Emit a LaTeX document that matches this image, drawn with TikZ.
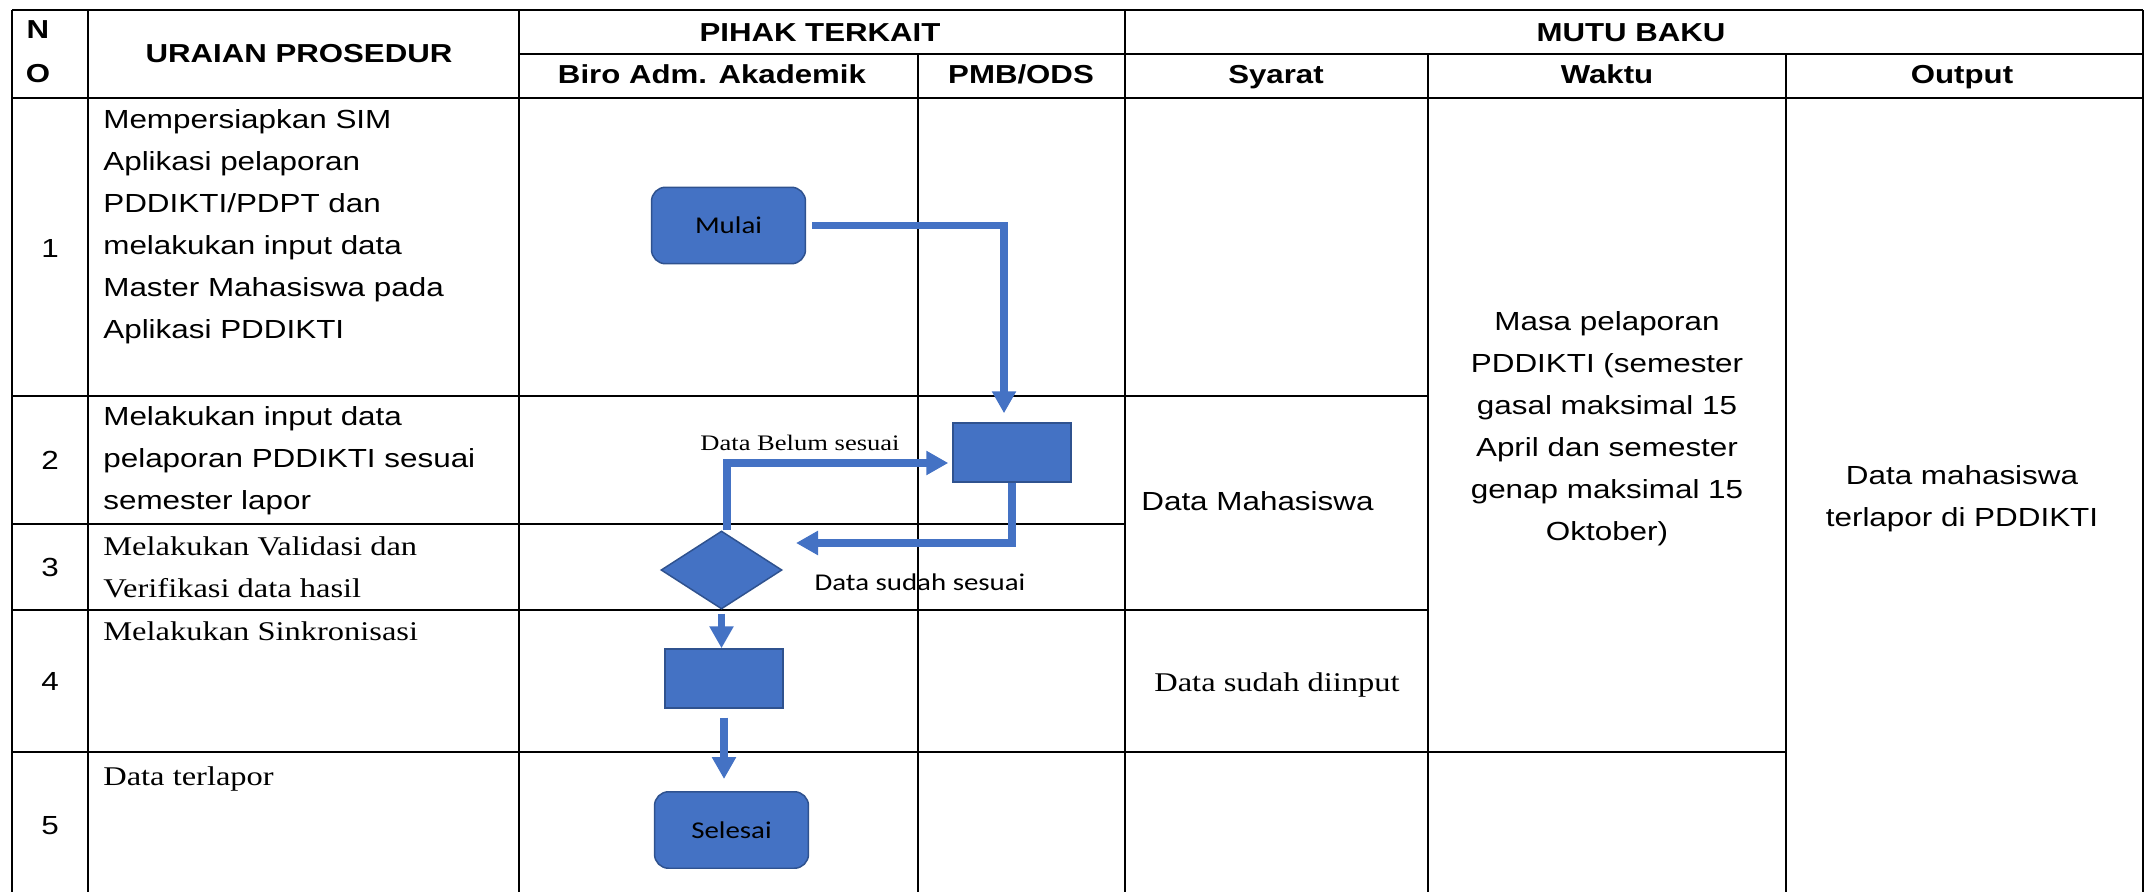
\documentclass[tikz,border=0pt]{standalone}
\usepackage{fontspec}
\setmainfont{Liberation Sans}[FakeStretch=1.2]
\newfontfamily\timesf{Liberation Serif}[FakeStretch=1.2]
\newfontfamily\calif{Carlito}[FakeStretch=1.2]
\usetikzlibrary{arrows.meta,shapes.geometric}
\definecolor{boxblue}{HTML}{4472C4}
\definecolor{boxedge}{HTML}{2F528F}
\tikzset{
  grid/.style={line width=1.1pt},
  head/.style={font=\fontsize{14.8}{25}\selectfont\bfseries, anchor=base, inner sep=0pt},
  num/.style={font=\fontsize{14.9}{18}\selectfont, inner sep=0pt},
  txt/.style={font=\fontsize{14.9}{23.9}\selectfont, align=left, anchor=base west, inner sep=0pt},
  ttxt/.style={font=\timesf\fontsize{15.4}{23.9}\selectfont, align=left, anchor=base west, inner sep=0pt},
  ctxt/.style={font=\fontsize{14.9}{23.9}\selectfont, align=center, inner sep=0pt},
  term/.style={draw=boxedge, line width=0.85pt, fill=boxblue, rounded corners=8pt,
    minimum width=3.08cm, minimum height=1.53cm, font=\calif\fontsize{13.7}{16}\selectfont},
  proc/.style={draw=boxedge, line width=0.85pt, fill=boxblue, minimum width=2.36cm, minimum height=1.18cm},
  dec/.style={diamond, draw=boxedge, line width=0.85pt, fill=boxblue, inner sep=0pt,
    minimum width=2.42cm, minimum height=1.56cm},
  flow/.style={draw=boxblue, line width=4.3pt, -{Triangle[length=0.44cm,width=0.46cm]}},
}
\begin{document}
\begin{tikzpicture}[x=0.02cm,y=-0.02cm]
\useasboundingbox (0,0) rectangle (2147,892);
% table lines
\draw[grid] (12,10) -- (2143,10);
\draw[grid] (519,54) -- (2143,54);
\draw[grid] (12,98) -- (2143,98);
\draw[grid] (12,396) -- (1428,396);
\draw[grid] (12,524) -- (1125,524);
\draw[grid] (12,610) -- (1428,610);
\draw[grid] (12,752) -- (1786,752);
\foreach \x in {12,88,519,1125,2143} \draw[grid] (\x,10) -- (\x,892);
\foreach \x in {918,1428,1786} \draw[grid] (\x,54) -- (\x,892);
%
\node[head, anchor=center, align=center] (no) at (38,52) {N\\O};
\node[head] (uraian) at (299,63) {URAIAN PROSEDUR};
\node[head] (pihak) at (820,42) {PIHAK TERKAIT};
\node[head] (mutu) at (1631,42) {MUTU BAKU};
\node[head] (biro) at (712,84) {Biro Adm. Akademik};
\node[head] (pmb) at (1021,84) {PMB/ODS};
\node[head] (syarat) at (1276,84) {Syarat};
\node[head] (waktu) at (1607,84) {Waktu};
\node[head] (output) at (1962,84) {Output};
%
\node[num] (n1) at (50,248) {1};
\node[num] (n2) at (50,460) {2};
\node[num] (n3) at (50,567) {3};
\node[num] (n4) at (50,681) {4};
\node[num] (n5) at (50,826) {5};
% base of last line
\node[txt] (u1) at (103,338) {Mempersiapkan SIM\\Aplikasi pelaporan\\PDDIKTI/PDPT dan\\melakukan input data\\Master Mahasiswa pada\\Aplikasi PDDIKTI};
\node[txt] (u2) at (103,509) {Melakukan input data\\pelaporan PDDIKTI sesuai\\semester lapor};
\node[ttxt] (u3) at (103,597) {Melakukan Validasi dan\\Verifikasi data hasil};
\node[ttxt] (u4) at (103,640) {Melakukan Sinkronisasi};
\node[ttxt] (u5) at (103,785) {Data terlapor};
%
\node[txt] (s1) at (1141,510) {Data Mahasiswa};
\node[ttxt, anchor=base] (s2) at (1277,691) {Data sudah diinput};
\node[ctxt] (w1) at (1607,429) {Masa pelaporan\\PDDIKTI (semester\\gasal maksimal 15\\April dan semester\\genap maksimal 15\\Oktober)};
\node[ctxt] (o1) at (1962,499) {Data mahasiswa\\terlapor di PDDIKTI};
%
\node[term] (mulai) at (728.5,225.5) {Mulai};
\node[proc] (proc1) at (1012,452.5) {};
\node[dec] (dec) at (721.5,570) {};
\node[proc] (proc2) at (724,678.5) {};
\node[term] (selesai) at (731.5,830) {Selesai};
\coordinate (back) at (796,543);
%
\draw[flow, shorten <=0.12cm, shorten >=0.18cm] (mulai.east) -| ([xshift=-0.16cm]proc1.north);
\draw[flow, shorten >=0.08cm] ([xshift=0.11cm]dec.north) |- ([yshift=-0.21cm]proc1.west);
\draw[flow] (proc1.south) |- (back);
\draw[flow, shorten <=0.08cm] (dec.south) -- (dec.south |- proc2.north);
\draw[flow, shorten <=0.18cm, shorten >=0.24cm] (proc2.south) -- (proc2.south |- selesai.north);
\node[font=\timesf\fontsize{12.6}{14}\selectfont, anchor=base, inner sep=0pt] (belum) at (800,450) {Data Belum sesuai};
\node[font=\calif\fontsize{13.7}{16}\selectfont, anchor=base, inner sep=0pt] (sudah) at (920,590) {Data sudah sesuai};
\end{tikzpicture}
\end{document}
